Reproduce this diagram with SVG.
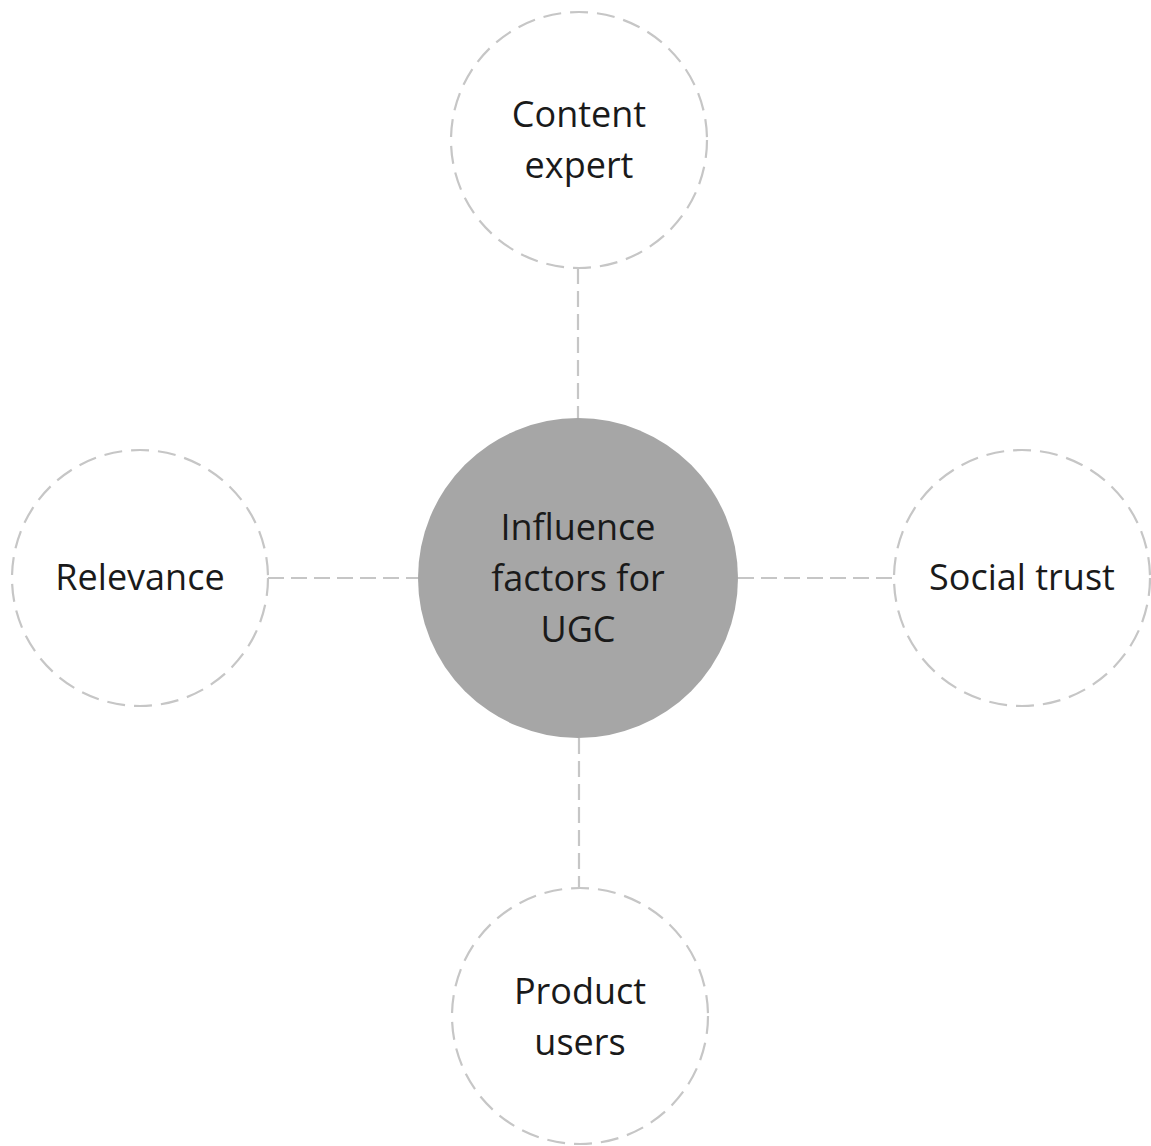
<svg xmlns="http://www.w3.org/2000/svg" width="1151" height="1146" viewBox="0 0 1151 1146">
<style>
.sat{fill:#ffffff;stroke:#c6c6c6;stroke-width:2.2;stroke-dasharray:18 9}
.hub{fill:#a6a6a6;stroke:none}
.conn{stroke:#c6c6c6;stroke-width:2.2;stroke-dasharray:16 7;fill:none}
text{font-family:"Open Sans","Noto Sans","Liberation Sans",sans-serif;font-size:36px;fill:#1a1a1a;text-anchor:middle}
</style>
<rect width="1151" height="1146" fill="#ffffff"/>
<g id="connectors">
<line class="conn" x1="578" y1="268" x2="578" y2="418"/>
<line class="conn" x1="268" y1="578" x2="418" y2="578"/>
<line class="conn" x1="738" y1="578" x2="894" y2="578"/>
<line class="conn" x1="579" y1="738" x2="579" y2="888"/>
</g>
<g id="hub">
<circle class="hub" cx="578" cy="578" r="160"/>
<text x="578" y="540">Influence</text>
<text x="578" y="591">factors for</text>
<text x="578" y="642">UGC</text>
</g>
<g id="content-expert">
<circle class="sat" cx="579" cy="140" r="128"/>
<text x="579" y="127">Content</text>
<text x="579" y="178">expert</text>
</g>
<g id="relevance">
<circle class="sat" cx="140" cy="578" r="128"/>
<text x="140" y="590">Relevance</text>
</g>
<g id="social-trust">
<circle class="sat" cx="1022" cy="578" r="128"/>
<text x="1022" y="590">Social trust</text>
</g>
<g id="product-users">
<circle class="sat" cx="580" cy="1016" r="128"/>
<text x="580" y="1004">Product</text>
<text x="580" y="1055">users</text>
</g>
</svg>
